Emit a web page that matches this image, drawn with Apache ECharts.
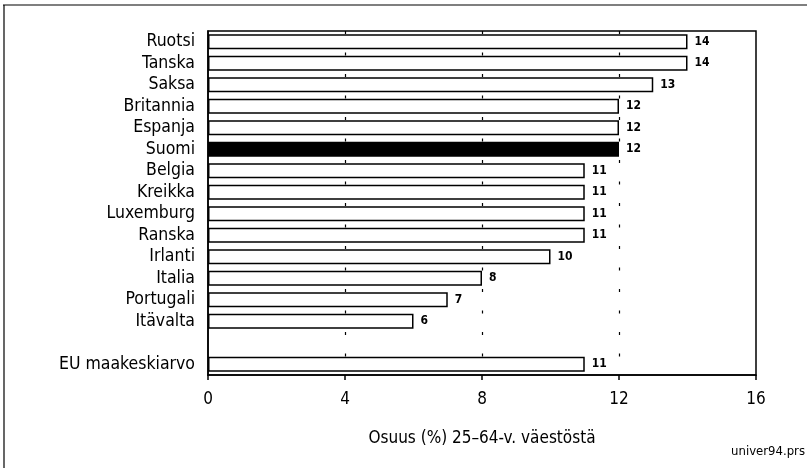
<!DOCTYPE html>
<html>
<head>
<meta charset="utf-8">
<script src="https://cdn.jsdelivr.net/npm/echarts@6/dist/echarts.min.js"></script>
<style>
html,body{margin:0;padding:0;background:#fff;}
#c{width:807px;height:468px;}
</style>
</head>
<body>
<div id="c"></div>
<script>
var categories = ['Ruotsi','Tanska','Saksa','Britannia','Espanja','Suomi','Belgia','Kreikka','Luxemburg','Ranska','Irlanti','Italia','Portugali','Itävalta','','EU maakeskiarvo'];
var values = [14,14,13,12,12,12,11,11,11,11,10,8,7,6,null,11];
var highlight = 'Suomi';
var xTicks = [0,4,8,12,16];
var xTitle = 'Osuus (%) 25–64-v. väestöstä';
var sourceNote = 'univer94.prs';

var FONT = '"Liberation Sans Narrow","Arial Narrow","DejaVu Sans Condensed",sans-serif';
var chart = echarts.init(document.getElementById('c'));
var data = values.map(function(v,i){
  if (v === null) return {value: null};
  var isH = categories[i] === highlight;
  return {value: v, itemStyle: {color: isH ? '#000' : '#fff', borderColor: '#000', borderWidth: 1.5}};
});
chart.setOption({
  animation: false,
  backgroundColor: '#fff',
  grid: {left: 208, right: 51, top: 31, bottom: 93, show: true, borderColor: '#000', borderWidth: 1.5, backgroundColor: 'transparent'},
  xAxis: {
    type: 'value', min: xTicks[0], max: xTicks[xTicks.length-1], interval: 4,
    name: xTitle, nameLocation: 'middle', nameGap: 55,
    nameTextStyle: {fontFamily: FONT, fontSize: 17, color: '#000'},
    axisLine: {show: true, lineStyle: {color: '#000', width: 1.5}},
    axisTick: {show: true, length: 5, lineStyle: {color: '#000', width: 1.5}},
    axisLabel: {fontFamily: FONT, fontSize: 17, color: '#000', margin: 16},
    splitLine: {show: true, showMinLine: false, showMaxLine: false, lineStyle: {color: '#000', width: 1.2, type: [3, 18.5]}}
  },
  yAxis: {
    type: 'category', data: categories, inverse: true,
    axisLine: {show: true, lineStyle: {color: '#000', width: 1.5}},
    axisTick: {show: false},
    axisLabel: {fontFamily: FONT, fontSize: 17.5, color: '#000', margin: 13, interval: 0, hideOverlap: false}
  },
  series: [{
    type: 'bar', data: data, barWidth: 15,
    label: {show: true, position: 'right', distance: 7, fontFamily: FONT, fontSize: 12, fontWeight: 'bold', color: '#000'}
  }],
  graphic: [
    {type: 'line', shape: {x1: 3, y1: 5, x2: 807, y2: 5}, style: {stroke: '#000', lineWidth: 1.2}},
    {type: 'line', shape: {x1: 4, y1: 5, x2: 4, y2: 468}, style: {stroke: '#000', lineWidth: 1.2}},
    {type: 'text', right: 2, top: 445, style: {text: sourceNote, fontFamily: FONT, fontSize: 13, fill: '#000'}}
  ]
});
</script>
</body>
</html>
